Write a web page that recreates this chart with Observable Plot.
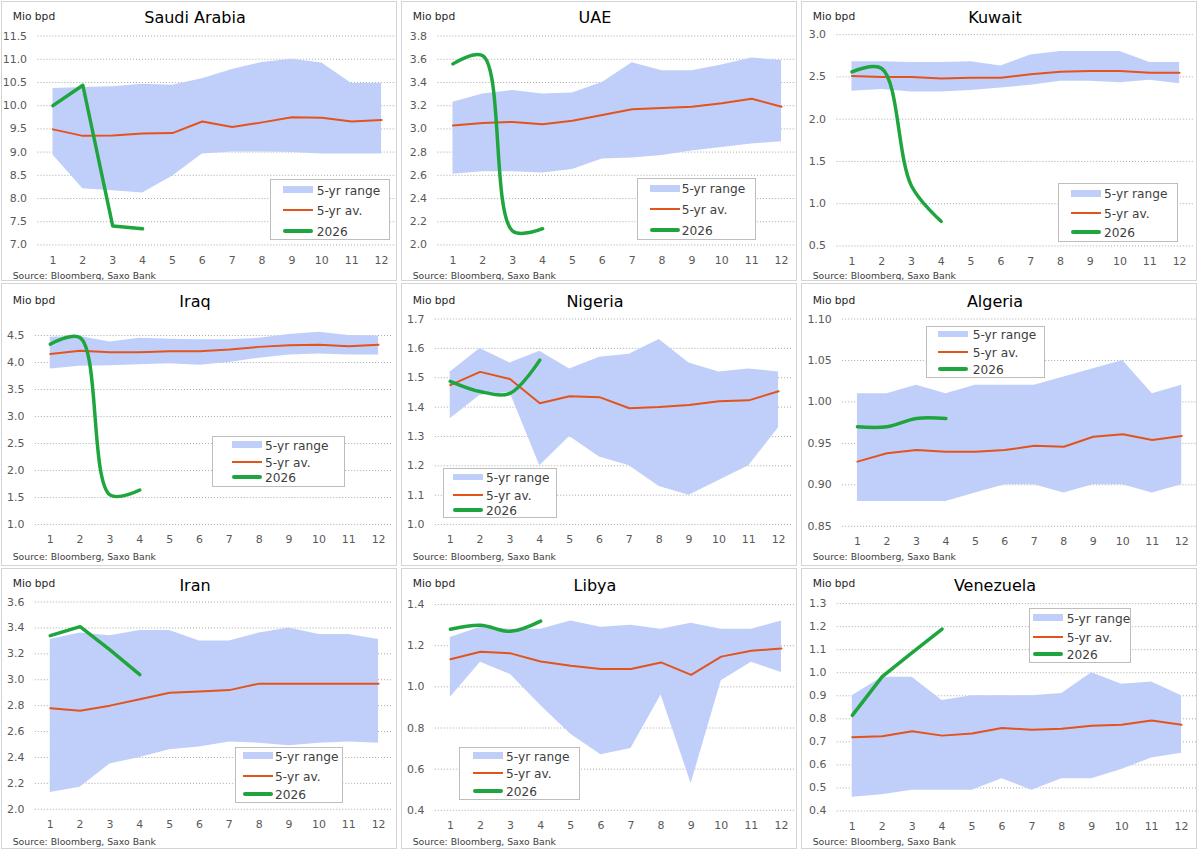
<!DOCTYPE html>
<html>
<head>
<meta charset="utf-8">
<script src="https://cdn.jsdelivr.net/npm/d3@7"></script>
<script src="https://cdn.jsdelivr.net/npm/@observablehq/plot@0.6"></script>
<style>
  body { margin: 0; background: #fff; font-family: "DejaVu Sans", sans-serif; }
  #wrap { position: relative; width: 1200px; height: 850px; background: #fff; overflow: hidden; }
  .panel { position: absolute; box-sizing: border-box; border: 1px solid #d4d4d4; overflow: hidden; background: #fff; }
  .panel svg { position: absolute; left: 0; top: 0; }
  .title { position: absolute; left: 0; width: 386px; text-align: center; font-size: 16px; line-height: 20px; color: #000; transform: translateY(-50%); }
  .unit { position: absolute; left: 10.7px; font-size: 10.7px; line-height: 14px; color: #262626; transform: translateY(-50%); }
  .source { position: absolute; left: 10.7px; font-size: 9.3px; line-height: 12px; color: #404040; white-space: nowrap; transform: translateY(-50%); }
  .legend { position: absolute; box-sizing: border-box; border: 1px solid #bdbdbd; background: #fff; }
  .legend .lab { position: absolute; font-size: 12.2px; line-height: 15px; color: #404040; white-space: nowrap; transform: translateY(-50%); }
  .legend .sw { position: absolute; }
</style>
</head>
<body>
<div id="wrap"></div>
<script>
// ---------- data ----------
const months = [1, 2, 3, 4, 5, 6, 7, 8, 9, 10, 11, 12];
const countries = ["Saudi Arabia", "UAE", "Kuwait", "Iraq", "Nigeria", "Algeria", "Iran", "Libya", "Venezuela"];
const legendLabels = ["5-yr range", "5-yr av.", "2026"];
const unitLabel = "Mio bpd";
const sourceLabel = "Source: Bloomberg, Saxo Bank";

const saudiHigh = [10.37, 10.39, 10.41, 10.46, 10.44, 10.58, 10.78, 10.93, 11.0, 10.92, 10.48, 10.48];
const saudiLow  = [8.94, 8.21, 8.17, 8.12, 8.48, 8.96, 9.0, 9.0, 8.99, 8.96, 8.96, 8.96];
const saudiAvg  = [9.49, 9.35, 9.36, 9.40, 9.41, 9.66, 9.54, 9.64, 9.75, 9.74, 9.66, 9.69];
const saudi2026 = [10.0, 10.44, 7.41, 7.35];
const saudiTicks = [7.0, 7.5, 8.0, 8.5, 9.0, 9.5, 10.0, 10.5, 11.0, 11.5];

const uaeHigh = [3.23, 3.30, 3.33, 3.30, 3.31, 3.40, 3.57, 3.50, 3.50, 3.55, 3.61, 3.59];
const uaeLow  = [2.61, 2.63, 2.63, 2.62, 2.65, 2.74, 2.75, 2.77, 2.81, 2.84, 2.87, 2.89];
const uaeAvg  = [3.03, 3.05, 3.06, 3.04, 3.07, 3.12, 3.17, 3.18, 3.19, 3.22, 3.26, 3.19];
const uae2026 = [3.56, 3.63, 2.12, 2.14];
const uaeTicks = [2.0, 2.2, 2.4, 2.6, 2.8, 3.0, 3.2, 3.4, 3.6, 3.8];

const kuwaitHigh = [2.68, 2.68, 2.67, 2.67, 2.68, 2.63, 2.76, 2.80, 2.80, 2.80, 2.67, 2.67];
const kuwaitLow  = [2.33, 2.35, 2.32, 2.32, 2.34, 2.37, 2.40, 2.45, 2.45, 2.43, 2.46, 2.42];
const kuwaitAvg  = [2.51, 2.50, 2.50, 2.48, 2.49, 2.49, 2.53, 2.56, 2.57, 2.57, 2.55, 2.55];
const kuwait2026 = [2.56, 2.60, 1.21, 0.79];
const kuwaitTicks = [0.5, 1.0, 1.5, 2.0, 2.5, 3.0];

const iraqHigh = [4.47, 4.48, 4.38, 4.45, 4.43, 4.42, 4.42, 4.45, 4.52, 4.56, 4.50, 4.49];
const iraqLow  = [3.88, 3.93, 3.94, 3.96, 3.98, 3.95, 4.00, 4.08, 4.14, 4.16, 4.14, 4.14];
const iraqAvg  = [4.16, 4.22, 4.19, 4.19, 4.21, 4.21, 4.24, 4.29, 4.32, 4.33, 4.30, 4.33];
const iraq2026 = [4.34, 4.46, 1.55, 1.64];
const iraqTicks = [1.0, 1.5, 2.0, 2.5, 3.0, 3.5, 4.0, 4.5];

const nigeriaHigh = [1.52, 1.60, 1.55, 1.59, 1.53, 1.57, 1.58, 1.63, 1.55, 1.52, 1.53, 1.52];
const nigeriaLow  = [1.36, 1.44, 1.45, 1.20, 1.30, 1.23, 1.20, 1.13, 1.10, 1.15, 1.20, 1.33];
const nigeriaAvg  = [1.475, 1.52, 1.496, 1.413, 1.437, 1.434, 1.396, 1.40, 1.407, 1.42, 1.423, 1.454];
const nigeria2026 = [1.488, 1.453, 1.447, 1.56];
const nigeriaTicks = [1.0, 1.1, 1.2, 1.3, 1.4, 1.5, 1.6, 1.7];

const algeriaHigh = [1.01, 1.01, 1.02, 1.01, 1.02, 1.02, 1.02, 1.03, 1.04, 1.05, 1.01, 1.02];
const algeriaLow  = [0.88, 0.88, 0.88, 0.88, 0.89, 0.90, 0.90, 0.89, 0.90, 0.90, 0.89, 0.90];
const algeriaAvg  = [0.928, 0.938, 0.942, 0.940, 0.940, 0.942, 0.947, 0.946, 0.958, 0.961, 0.954, 0.959];
const algeria2026 = [0.97, 0.97, 0.98, 0.98];
const algeriaTicks = [0.85, 0.90, 0.95, 1.00, 1.05, 1.10];

const iranHigh = [3.31, 3.36, 3.34, 3.38, 3.38, 3.30, 3.30, 3.36, 3.40, 3.35, 3.35, 3.31];
const iranLow  = [2.13, 2.17, 2.35, 2.40, 2.46, 2.48, 2.52, 2.51, 2.49, 2.51, 2.52, 2.51];
const iranAvg  = [2.78, 2.76, 2.80, 2.85, 2.90, 2.91, 2.92, 2.97, 2.97, 2.97, 2.97, 2.97];
const iran2026 = [3.34, 3.41, 3.23, 3.04];
const iranTicks = [2.0, 2.2, 2.4, 2.6, 2.8, 3.0, 3.2, 3.4, 3.6];

const libyaHigh = [1.24, 1.29, 1.28, 1.28, 1.32, 1.29, 1.30, 1.28, 1.31, 1.28, 1.28, 1.32];
const libyaLow  = [0.95, 1.12, 1.06, 0.91, 0.77, 0.67, 0.70, 0.96, 0.53, 1.03, 1.12, 1.07];
const libyaAvg  = [1.134, 1.171, 1.163, 1.123, 1.103, 1.087, 1.087, 1.119, 1.058, 1.147, 1.176, 1.187];
const libya2026 = [1.28, 1.30, 1.27, 1.32];
const libyaTicks = [0.4, 0.6, 0.8, 1.0, 1.2, 1.4];

const venezuelaHigh = [0.90, 0.98, 0.98, 0.88, 0.90, 0.90, 0.90, 0.91, 1.00, 0.95, 0.96, 0.90];
const venezuelaLow  = [0.46, 0.47, 0.49, 0.49, 0.49, 0.54, 0.49, 0.54, 0.54, 0.58, 0.63, 0.65];
const venezuelaAvg  = [0.72, 0.724, 0.746, 0.727, 0.736, 0.76, 0.753, 0.757, 0.77, 0.774, 0.793, 0.774];
const venezuela2026 = [0.815, 0.983, 1.087, 1.189];
const venezuelaTicks = [0.4, 0.5, 0.6, 0.7, 0.8, 0.9, 1.0, 1.1, 1.2, 1.3];

// ---------- styles / layout ----------
const bandColor = "#c0cff9";
const avgColor = "#e3531c";
const curColor = "#1fa53e";
const colLeft = [1, 401, 801];
const rowTop = [1, 283, 568];
const rowH = [280, 283, 281];
const titleY = [15.7, 18, 16.8];
const unitY = [15.3, 17.3, 15.3];
const sourceY = [274, 273, 272.7];

const panels = [
  {high: saudiHigh, low: saudiLow, avg: saudiAvg, cur: saudi2026, ticks: saudiTicks, fmt: ".1f", curve: "linear",
   m: [33.7, 0, 34.3, 35.7], lg: {l: 268, t: 176.5, w: 120, h: 61.5, sw: 12.7, tx: 46.7, rows: [11, 31.5, 52]}},
  {high: uaeHigh, low: uaeLow, avg: uaeAvg, cur: uae2026, ticks: uaeTicks, fmt: ".1f", curve: "catmull-rom",
   m: [33.7, 0, 34.3, 35.7], lg: {l: 235.3, t: 175.7, w: 118.7, h: 62.3, sw: 12.7, tx: 44.4, rows: [10.6, 31.6, 52.3]}},
  {high: kuwaitHigh, low: kuwaitLow, avg: kuwaitAvg, cur: kuwait2026, ticks: kuwaitTicks, fmt: ".1f", curve: "catmull-rom",
   m: [32.3, 2, 33.3, 34.7], lg: {l: 256.3, t: 181.3, w: 119.4, h: 59, sw: 12.4, tx: 45.7, rows: [10, 30, 49]}},
  {high: iraqHigh, low: iraqLow, avg: iraqAvg, cur: iraq2026, ticks: iraqTicks, fmt: ".1f", curve: "catmull-rom",
   m: [51.3, 3, 39.7, 33], lg: {l: 209.7, t: 152.3, w: 133.3, h: 50.7, sw: 20, tx: 53.3, rows: [8.4, 25.7, 40.7]}},
  {high: nigeriaHigh, low: nigeriaLow, avg: nigeriaAvg, cur: nigeria2026, ticks: nigeriaTicks, fmt: ".1f", curve: "catmull-rom",
   m: [34.7, 3, 39.7, 33], lg: {l: 40.7, t: 184, w: 114, h: 50, sw: 10, tx: 43.3, rows: [9, 26.7, 42.3]}},
  {high: algeriaHigh, low: algeriaLow, avg: algeriaAvg, cur: algeria2026, ticks: algeriaTicks, fmt: ".2f", curve: "catmull-rom",
   m: [34.7, 0, 38, 40.4], lg: {l: 124, t: 41.7, w: 119, h: 52.3, sw: 12.3, tx: 46.7, rows: [8.3, 26.3, 43.3]}},
  {high: iranHigh, low: iranLow, avg: iranAvg, cur: iran2026, ticks: iranTicks, fmt: ".1f", curve: "linear",
   m: [32.7, 3, 38, 33], lg: {l: 233, t: 177.7, w: 107.7, h: 56.6, sw: 7.7, tx: 40, rows: [9, 29, 47.6]}},
  {high: libyaHigh, low: libyaLow, avg: libyaAvg, cur: libya2026, ticks: libyaTicks, fmt: ".1f", curve: "catmull-rom",
   m: [35.3, 0, 37, 33], lg: {l: 57.3, t: 177.7, w: 120.7, h: 53.3, sw: 13.4, tx: 46.7, rows: [9, 26.6, 44]}},
  {high: venezuelaHigh, low: venezuelaLow, avg: venezuelaAvg, cur: venezuela2026, ticks: venezuelaTicks, fmt: ".1f", curve: "linear",
   m: [34.3, 0, 36.3, 35], lg: {l: 227.3, t: 39.3, w: 101.7, h: 55, sw: 4, tx: 37.4, rows: [9.4, 28.4, 46]}}
];

const wrap = document.getElementById("wrap");

function el(tag, cls, parent, style, text) {
  const e = document.createElement(tag);
  if (cls) e.className = cls;
  Object.assign(e.style, style || {});
  if (text != null) e.textContent = text;
  parent.appendChild(e);
  return e;
}

panels.forEach((p, i) => {
  const col = i % 3, row = Math.floor(i / 3);
  const innerH = rowH[row] - 2;
  const panel = el("div", "panel", wrap, {
    left: colLeft[col] + "px", top: rowTop[row] + "px", width: "396px", height: rowH[row] + "px"
  });

  const data = months.map((m, k) => ({m, lo: p.low[k], hi: p.high[k], avg: p.avg[k]}));
  const cur = p.cur.map((v, k) => ({m: months[k], v}));
  const [mt, mr, mb, ml] = p.m;

  const svg = Plot.plot({
    width: 396,
    height: innerH,
    marginTop: mt, marginRight: mr, marginBottom: mb, marginLeft: ml,
    style: {fontFamily: "DejaVu Sans", fontSize: "11px", color: "#595959", background: "transparent", overflow: "visible"},
    x: {type: "linear", domain: [0.5, 12.5], label: null},
    y: {type: "linear", domain: [p.ticks[0], p.ticks[p.ticks.length - 1]], label: null},
    marks: [
      Plot.gridY(p.ticks, {stroke: "#a6a6a6", strokeOpacity: 1, strokeWidth: 1, strokeDasharray: "1,2"}),
      Plot.areaY(data, {x: "m", y1: "lo", y2: "hi", fill: bandColor}),
      Plot.lineY(data, {x: "m", y: "avg", stroke: avgColor, strokeWidth: 2}),
      Plot.lineY(cur, {x: "m", y: "v", stroke: curColor, strokeWidth: 3.5, curve: p.curve, strokeLinecap: "round"}),
      Plot.axisX(months, {tickSize: 0, tickPadding: 11, tickFormat: d => String(d), label: null}),
      Plot.axisY(p.ticks, {tickSize: 0, tickPadding: 11, tickFormat: d3.format(p.fmt), label: null})
    ]
  });
  panel.appendChild(svg);

  el("div", "title", panel, {top: titleY[row] + "px"}, countries[i]);
  el("div", "unit", panel, {top: unitY[row] + "px"}, unitLabel);
  el("div", "source", panel, {top: sourceY[row] + "px"}, sourceLabel);

  const L = p.lg;
  const box = el("div", "legend", panel, {left: L.l + "px", top: L.t + "px", width: L.w + "px", height: L.h + "px"});
  const swW = 30;
  const swatches = [
    {h: 6.5, c: bandColor, r: 0},
    {h: 2, c: avgColor, r: 0},
    {h: 4, c: curColor, r: 2}
  ];
  swatches.forEach((s, k) => {
    const y = L.rows[k] - 1;
    el("div", "sw", box, {left: (L.sw - 1) + "px", top: (y - s.h / 2) + "px", width: swW + "px", height: s.h + "px", background: s.c, borderRadius: s.r + "px"});
    el("div", "lab", box, {left: (L.tx - 1) + "px", top: (y + 1) + "px"}, legendLabels[k]);
  });
});
</script>
</body>
</html>
